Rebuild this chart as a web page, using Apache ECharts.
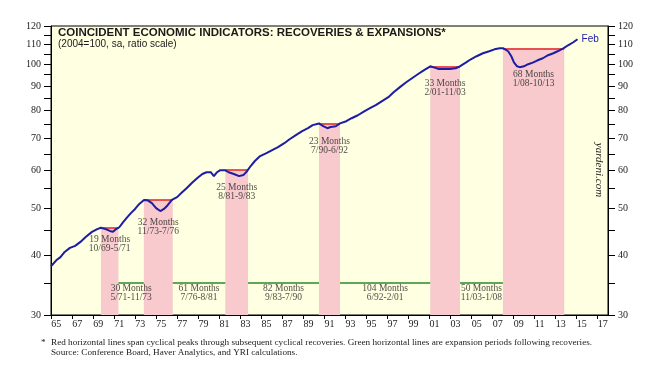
<!DOCTYPE html>
<html><head><meta charset="utf-8">
<script src="https://cdn.jsdelivr.net/npm/echarts@6/dist/echarts.min.js"></script>
<style>html,body{margin:0;padding:0;background:#fff}#c{width:657px;height:366px}</style>
</head><body><div id="c"></div>
<script>
// Coincident Economic Indicators (2004=100)
const dates = [1965.0,1965.5,1965.9,1966.3,1966.8,1967.3,1967.8,1968.3,1968.9,1969.4,
  1969.75,1970.2,1970.6,1970.9,1971.2,1971.5,1971.85,1972.2,1972.6,1973.0,
  1973.4,1973.85,1974.2,1974.6,1975.0,1975.4,1975.75,1976.1,1976.5,1977.0,
  1977.5,1977.9,1978.4,1978.9,1979.4,1979.8,1980.2,1980.5,1980.8,1981.1,
  1981.55,1981.9,1982.4,1982.9,1983.3,1983.65,1984.0,1984.4,1984.9,1985.5,
  1986.0,1986.6,1987.2,1987.7,1988.3,1988.9,1989.45,1989.9,1990.5,1990.9,
  1991.3,1991.6,1992.1,1992.5,1993.1,1993.6,1994.2,1994.8,1995.35,1995.9,
  1996.5,1997.1,1997.6,1998.2,1998.8,1999.35,1999.9,2000.5,2001.1,2001.5,
  2001.9,2002.4,2002.95,2003.5,2003.9,2004.5,2004.95,2005.5,2006.1,2006.7,
  2007.2,2007.7,2008.05,2008.5,2008.8,2009.05,2009.35,2009.6,2010.0,2010.4,
  2010.9,2011.3,2011.8,2012.3,2012.8,2013.2,2013.75,2014.2,2014.7,2015.1];
const cei = [37.9,39.0,39.6,40.6,41.4,41.8,42.6,43.6,44.7,45.3,
  45.6,45.3,44.9,44.7,45.3,45.7,46.8,47.8,48.9,49.9,
  51.1,52.1,52.0,51.3,50.1,49.4,49.9,50.8,52.1,52.8,
  54.1,55.1,56.5,57.8,59.0,59.5,59.5,58.4,59.5,60.1,
  60.1,59.5,59.0,58.4,58.7,59.8,61.3,62.8,64.3,65.2,
  66.1,67.1,68.4,69.7,71.1,72.5,73.5,74.6,75.2,74.2,
  73.5,73.9,74.2,75.2,76.0,77.1,78.2,79.7,80.9,82.1,
  83.7,85.3,87.3,89.5,91.6,93.4,95.2,97.1,98.9,98.3,
  97.6,97.6,97.6,98.0,98.9,100.8,102.3,103.8,105.3,106.3,
  107.3,107.8,107.8,106.3,103.8,100.8,98.9,98.5,98.9,99.9,
  100.8,101.8,102.8,104.3,105.3,106.3,107.8,109.4,111.0,112.6];

// Recoveries (cyclical peak -> recovery)
const recStart = ['10/69','11/73','8/81','7/90','2/01','1/08'];
const recEnd   = ['5/71','7/76','9/83','6/92','11/03','10/13'];
const recMonths = [19,32,25,23,33,68];
const recPeak = [45.6,52.1,60.1,75.2,98.9,107.8];
const recLabelLevel = [42.1,45.8,54.1,67.4,89.0,92.9];

// Expansions following recoveries
const expStart = ['5/71','7/76','9/83','6/92','11/03'];
const expEnd   = ['11/73','8/81','7/90','2/01','1/08'];
const expMonths = [30,61,82,104,50];
const expLevel = 35;
const expLabelLevel = 33.4;

const xTickLabels = ['65','67','69','71','73','75','77','79','81','83','85','87','89','91','93','95','97','99','01','03','05','07','09','11','13','15','17'];
const yTickLabels = [30,40,50,60,70,80,90,100,110,120];
const yTicks = [30,35,40,45,50,55,60,65,70,75,80,85,90,95,100,105,110,115,120];

const serif = '"Liberation Serif","Times New Roman",serif';
const sans = '"Liberation Sans",Arial,sans-serif';

function parseMY(s){ const p = s.split('/').map(Number); return {m:p[0], y:p[1] < 50 ? 2000 + p[1] : 1900 + p[1]}; }
const mStart = s => { const p = parseMY(s); return p.y + (p.m - 1) / 12; };
const mEnd = s => { const p = parseMY(s); return p.y + p.m / 12; };
const yr = l => { const n = Number(l); return n < 50 ? 2000 + n : 1900 + n; };

const lineData = dates.map((d, i) => [d, cei[i]]);
const areas = recStart.map((s, i) => [{coord:[mStart(s), 30]}, {coord:[mEnd(recEnd[i]), recPeak[i]]}]);
const redLines = recStart.map((s, i) => [
  {coord:[mStart(s), recPeak[i]], lineStyle:{color:'#e02424', width:1.5, type:'solid'}},
  {coord:[mEnd(recEnd[i]), recPeak[i]]}]);
const greenLines = expStart.map((s, i) => [
  {coord:[mEnd(s), expLevel], lineStyle:{color:'#2a8a2a', width:1.5, type:'solid'}},
  {coord:[mStart(expEnd[i]), expLevel]}]);

const labelPts = recStart.map((s, i) => ({
  value:[(mStart(s) + mEnd(recEnd[i])) / 2, recLabelLevel[i]],
  name: recMonths[i] + ' Months\n' + s + '-' + recEnd[i]}))
  .concat(expStart.map((s, i) => ({
  value:[(mEnd(s) + mStart(expEnd[i])) / 2, expLabelLevel],
  name: expMonths[i] + ' Months\n' + s + '-' + expEnd[i]})));

const yAxisBase = pos => ({
  type:'log', logBase:10, min:30, max:120, position:pos,
  axisLine:{show:true, lineStyle:{color:'#000', width:1}},
  axisTick:{show:true, customValues:yTicks, length:7, lineStyle:{color:'#000', width:1}},
  axisLabel:{customValues:yTickLabels, fontFamily:serif, fontSize:10, color:'#222', margin:10},
  splitLine:{show:false}, minorTick:{show:false}
});

const chart = echarts.init(document.getElementById('c'));
chart.setOption({
  animation:false,
  backgroundColor:'#ffffff',
  grid:{left:51, right:49, top:26, bottom:51, show:true, backgroundColor:'#ffffe1', borderColor:'#000', borderWidth:1},
  xAxis:{type:'value', min:1965, max:2018,
    axisLine:{show:true, onZero:false, lineStyle:{color:'#000', width:1}},
    axisTick:{show:true, customValues:xTickLabels.map(yr), length:4, lineStyle:{color:'#000'}},
    axisLabel:{customValues:xTickLabels.map(l => yr(l) + 0.5), fontFamily:serif, fontSize:10, color:'#222', margin:4,
      formatter:v => String(Math.floor(v + 1e-6) % 100).padStart(2, '0')},
    splitLine:{show:false}},
  yAxis:[yAxisBase('left'), yAxisBase('right')],
  series:[
    {type:'line', name:'CEI', data:lineData, xAxisIndex:0, yAxisIndex:0, showSymbol:false, symbol:'none', z:5,
      lineStyle:{color:'#1c1ca4', width:2},
      endLabel:{show:true, formatter:'Feb', color:'#1c1ca4', fontFamily:sans, fontSize:10, distance:4},
      markArea:{silent:true, itemStyle:{color:'#f8cacd', opacity:1}, data:areas},
      markLine:{silent:true, symbol:['none','none'], label:{show:false}, data:redLines.concat(greenLines)}},
    {type:'scatter', data:labelPts, symbolSize:1, itemStyle:{color:'rgba(0,0,0,0)'}, z:6, silent:true,
      label:{show:true, position:'inside', formatter:'{b}', fontFamily:serif, fontSize:9.5, lineHeight:9, color:'#222'}}
  ],
  graphic:[
    {type:'text', x:58, y:33, silent:true,
      style:{text:'COINCIDENT ECONOMIC INDICATORS: RECOVERIES & EXPANSIONS*', fontFamily:sans, fontWeight:'bold', fontSize:11.5, fill:'#1a1a1a', verticalAlign:'middle'}},
    {type:'text', x:58, y:44, silent:true,
      style:{text:'(2004=100, sa, ratio scale)', fontFamily:sans, fontSize:10, fill:'#1a1a1a', verticalAlign:'middle'}},
    {type:'text', x:599, y:170, rotation:-Math.PI/2, silent:true,
      style:{text:'yardeni.com', fontFamily:serif, fontStyle:'italic', fontSize:11, fill:'#222', align:'center', verticalAlign:'middle'}},
    {type:'text', x:41, y:343, silent:true, style:{text:'*', fontFamily:serif, fontSize:9.2, fill:'#222', verticalAlign:'middle'}},
    {type:'text', x:51, y:343, silent:true, style:{text:'Red horizontal lines span cyclical peaks through subsequent cyclical recoveries. Green horizontal lines are expansion periods following recoveries.', fontFamily:serif, fontSize:9.2, fill:'#222', verticalAlign:'middle'}},
    {type:'text', x:51, y:353, silent:true, style:{text:'Source: Conference Board, Haver Analytics, and YRI calculations.', fontFamily:serif, fontSize:9.2, fill:'#222', verticalAlign:'middle'}}
  ]
});
</script></body></html>
